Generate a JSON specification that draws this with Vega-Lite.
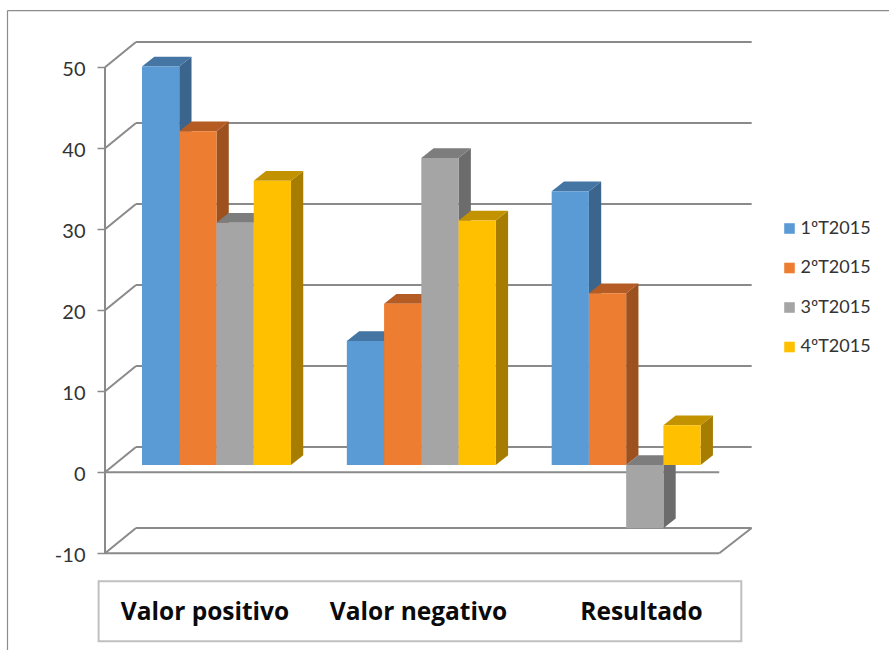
{
  "$schema": "https://vega.github.io/schema/vega-lite/v6.json",
  "width": 889,
  "height": 650,
  "padding": 0,
  "autosize": {"type": "none"},
  "background": "white",
  "config": {"view": {"stroke": null}},
  "datasets": {
    "bars": [
      {"category": "Valor positivo", "series": "1ºT2015", "value": 49.2},
      {"category": "Valor positivo", "series": "2ºT2015", "value": 41.2},
      {"category": "Valor positivo", "series": "3ºT2015", "value": 29.9},
      {"category": "Valor positivo", "series": "4ºT2015", "value": 35.1},
      {"category": "Valor negativo", "series": "1ºT2015", "value": 15.3},
      {"category": "Valor negativo", "series": "2ºT2015", "value": 19.9},
      {"category": "Valor negativo", "series": "3ºT2015", "value": 37.9},
      {"category": "Valor negativo", "series": "4ºT2015", "value": 30.2},
      {"category": "Resultado", "series": "1ºT2015", "value": 33.8},
      {"category": "Resultado", "series": "2ºT2015", "value": 21.2},
      {"category": "Resultado", "series": "3ºT2015", "value": -7.8},
      {"category": "Resultado", "series": "4ºT2015", "value": 4.9}
    ],
    "ticks": [
      {"tick": -10}, {"tick": 0}, {"tick": 10}, {"tick": 20},
      {"tick": 30}, {"tick": 40}, {"tick": 50}
    ],
    "one": [{"item": 1}]
  },
  "resolve": {"scale": {"color": "independent"}},
  "layer": [
    {
      "description": "Shared axes: value scale on the left, category names along the bottom",
      "data": {"name": "one"},
      "mark": {"type": "point", "opacity": 0},
      "encoding": {
        "x": {
          "datum": 0,
          "type": "quantitative",
          "scale": {"domain": [-0.6932, 3.6467], "nice": false, "zero": false},
          "axis": {
            "orient": "bottom",
            "offset": -38,
            "values": [0.305, 1.347, 2.436],
            "labelExpr": "datum.value < 1 ? 'Valor positivo' : datum.value < 2 ? 'Valor negativo' : 'Resultado'",
            "title": null,
            "domain": false,
            "ticks": false,
            "grid": false,
            "labelFont": "Open Sans",
            "labelFontWeight": "bold",
            "labelFontSize": 24.5,
            "labelColor": "#0a0a0a",
            "labelPadding": 0,
            "labelBaseline": "middle",
            "labelFlush": false,
            "labelOverlap": false
          }
        },
        "y": {
          "datum": 0,
          "type": "quantitative",
          "scale": {"domain": [-21.94, 58.31], "nice": false, "zero": false},
          "axis": {
            "orient": "left",
            "offset": -105,
            "values": [-10, 0, 10, 20, 30, 40, 50],
            "labelExpr": "'' + datum.value",
            "title": null,
            "domain": false,
            "grid": false,
            "tickColor": "#8a8a8a",
            "tickSize": 8,
            "tickWidth": 1.5,
            "labelFont": "Lato",
            "labelFontSize": 20,
            "labelColor": "#333333",
            "labelPadding": 12,
            "labelOffset": 2,
            "labelOverlap": false,
            "labelFlush": false
          }
        }
      }
    },
    {
      "description": "Outer frame, top edge",
      "data": {"name": "one"},
      "mark": {"type": "rule", "color": "#8c8c8c", "strokeWidth": 1.2},
      "encoding": {
        "x": {"datum": -0.6566, "type": "quantitative"},
        "x2": {"datum": 3.6467},
        "y": {"datum": 57, "type": "quantitative"}
      }
    },
    {
      "description": "Outer frame, left edge",
      "data": {"name": "one"},
      "mark": {"type": "rule", "color": "#8c8c8c", "strokeWidth": 1.2},
      "encoding": {
        "x": {"datum": -0.6566, "type": "quantitative"},
        "y": {"datum": 57, "type": "quantitative"},
        "y2": {"datum": -21.94}
      }
    },
    {
      "description": "Box around the category names",
      "data": {"name": "one"},
      "mark": {"type": "rect", "fill": null, "stroke": "#c0c0c0", "strokeWidth": 2},
      "encoding": {
        "x": {"datum": -0.2118, "type": "quantitative"},
        "x2": {"datum": 2.9256},
        "y": {"datum": -13.46, "type": "quantitative"},
        "y2": {"datum": -20.86}
      }
    },
    {
      "description": "Gridlines on the back wall",
      "data": {"name": "ticks"},
      "transform": [{"calculate": "datum.tick + 3.12", "as": "back"}],
      "mark": {"type": "rule", "color": "#8a8a8a", "strokeWidth": 2},
      "encoding": {
        "x": {"datum": -0.0293, "type": "quantitative"},
        "x2": {"datum": 2.9762},
        "y": {"field": "back", "type": "quantitative"}
      }
    },
    {
      "description": "Gridlines on the side wall",
      "data": {"name": "ticks"},
      "transform": [{"calculate": "datum.tick + 3.12", "as": "back"}],
      "mark": {"type": "rule", "color": "#8a8a8a", "strokeWidth": 2},
      "encoding": {
        "x": {"datum": -0.1806, "type": "quantitative"},
        "x2": {"datum": -0.0293},
        "y": {"field": "tick", "type": "quantitative"},
        "y2": {"field": "back"}
      }
    },
    {
      "description": "Front edge of the side wall",
      "data": {"name": "one"},
      "mark": {"type": "rule", "color": "#8a8a8a", "strokeWidth": 2},
      "encoding": {
        "x": {"datum": -0.1806, "type": "quantitative"},
        "y": {"datum": -10, "type": "quantitative"},
        "y2": {"datum": 50}
      }
    },
    {
      "description": "Front edges of the zero line and the floor",
      "data": {"name": "ticks"},
      "transform": [{"filter": "datum.tick <= 0"}],
      "mark": {"type": "rule", "color": "#8a8a8a", "strokeWidth": 2},
      "encoding": {
        "x": {"datum": -0.1806, "type": "quantitative"},
        "x2": {"datum": 2.818},
        "y": {"field": "tick", "type": "quantitative"}
      }
    },
    {
      "description": "Right edge of the floor",
      "data": {"name": "ticks"},
      "transform": [
        {"filter": "datum.tick == -10"},
        {"calculate": "datum.tick + 3.12", "as": "back"}
      ],
      "mark": {"type": "rule", "color": "#8a8a8a", "strokeWidth": 2},
      "encoding": {
        "x": {"datum": 2.818, "type": "quantitative"},
        "x2": {"datum": 2.9762},
        "y": {"field": "tick", "type": "quantitative"},
        "y2": {"field": "back"}
      }
    },
    {
      "description": "Right-hand faces of the bars",
      "data": {"name": "bars"},
      "transform": [
        {"calculate": "indexof(['Valor positivo','Valor negativo','Resultado'], datum.category)", "as": "g"},
        {"calculate": "indexof(['1ºT2015','2ºT2015','3ºT2015','4ºT2015'], datum.series)", "as": "s"},
        {"calculate": "[0, 1]", "as": "t"},
        {"flatten": ["t"]},
        {"calculate": "datum.g + (datum.s + 1) * 0.1818 + datum.t * 0.06", "as": "ux"},
        {"calculate": "max(datum.value, 0) + 0.9 + datum.t * 1.2", "as": "yTop"},
        {"calculate": "min(datum.value, 0) + 0.9 + datum.t * 1.2", "as": "yBase"}
      ],
      "mark": {"type": "area", "orient": "vertical"},
      "encoding": {
        "x": {"field": "ux", "type": "quantitative"},
        "y": {"field": "yTop", "type": "quantitative", "stack": null},
        "y2": {"field": "yBase"},
        "detail": {"field": "category"},
        "color": {
          "field": "series",
          "type": "nominal",
          "legend": null,
          "scale": {
            "domain": ["1ºT2015", "2ºT2015", "3ºT2015", "4ºT2015"],
            "range": ["#3b658c", "#9c511e", "#6c6c6c", "#a67d00"]
          }
        }
      }
    },
    {
      "description": "Top faces of the bars",
      "data": {"name": "bars"},
      "transform": [
        {"calculate": "indexof(['Valor positivo','Valor negativo','Resultado'], datum.category)", "as": "g"},
        {"calculate": "indexof(['1ºT2015','2ºT2015','3ºT2015','4ºT2015'], datum.series)", "as": "s"},
        {"calculate": "[0, 1]", "as": "t"},
        {"flatten": ["t"]},
        {"calculate": "datum.g + datum.s * 0.1818 + datum.t * 0.06", "as": "uLeft"},
        {"calculate": "datum.g + (datum.s + 1) * 0.1818 + datum.t * 0.06", "as": "uRight"},
        {"calculate": "max(datum.value, 0) + 0.9 + datum.t * 1.2", "as": "yTop"}
      ],
      "mark": {"type": "area", "orient": "horizontal"},
      "encoding": {
        "x": {"field": "uLeft", "type": "quantitative", "stack": null},
        "x2": {"field": "uRight"},
        "y": {"field": "yTop", "type": "quantitative"},
        "detail": {"field": "category"},
        "color": {
          "field": "series",
          "type": "nominal",
          "legend": null,
          "scale": {
            "domain": ["1ºT2015", "2ºT2015", "3ºT2015", "4ºT2015"],
            "range": ["#4575a3", "#b45c23", "#7d7d7d", "#c29200"]
          }
        }
      }
    },
    {
      "description": "Front faces of the bars",
      "data": {"name": "bars"},
      "transform": [
        {"calculate": "indexof(['Valor positivo','Valor negativo','Resultado'], datum.category)", "as": "g"},
        {"calculate": "indexof(['1ºT2015','2ºT2015','3ºT2015','4ºT2015'], datum.series)", "as": "s"},
        {"calculate": "datum.g + datum.s * 0.1818", "as": "uLeft"},
        {"calculate": "datum.uLeft + 0.1818", "as": "uRight"},
        {"calculate": "max(datum.value, 0) + 0.9", "as": "yTop"},
        {"calculate": "min(datum.value, 0) + 0.9", "as": "yBase"}
      ],
      "mark": {"type": "rect"},
      "encoding": {
        "x": {"field": "uLeft", "type": "quantitative"},
        "x2": {"field": "uRight"},
        "y": {"field": "yTop", "type": "quantitative"},
        "y2": {"field": "yBase"},
        "color": {
          "field": "series",
          "type": "nominal",
          "scale": {
            "domain": ["1ºT2015", "2ºT2015", "3ºT2015", "4ºT2015"],
            "range": ["#5b9bd5", "#ed7d31", "#a5a5a5", "#ffc000"]
          },
          "legend": {
            "title": null,
            "orient": "none",
            "legendX": 780.5,
            "legendY": 219.5,
            "symbolType": "square",
            "symbolSize": 112,
            "symbolStrokeWidth": 0,
            "labelFont": "Lato",
            "labelFontSize": 18,
            "labelColor": "#333333",
            "labelOffset": 2,
            "rowPadding": 21.5,
            "padding": 0
          }
        }
      }
    }
  ]
}
